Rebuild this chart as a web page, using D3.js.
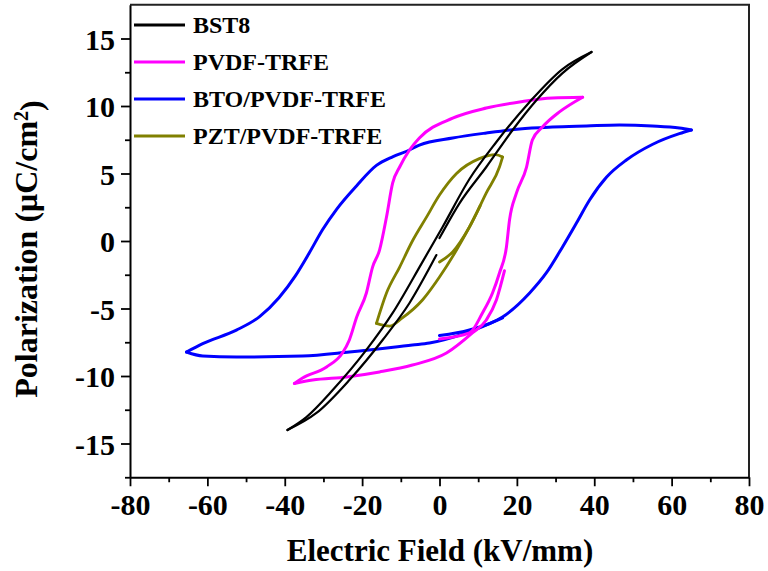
<!DOCTYPE html>
<html>
<head>
<meta charset="utf-8">
<script src="https://cdn.jsdelivr.net/npm/d3@7"></script>
<style>
  html, body { margin: 0; padding: 0; background: #fff; }
  svg { display: block; }
  text { font-family: "Liberation Serif", "Times New Roman", serif; font-weight: bold; fill: #000; }
</style>
</head>
<body>
<svg id="chart" width="768" height="571"></svg>
<script>
// ---- data (E in kV/mm, P in µC/cm²) ----
const seriesNames = ["BST8", "PVDF-TRFE", "BTO/PVDF-TRFE", "PZT/PVDF-TRFE"];
const seriesColors = ["#000000", "#ff00ff", "#0000ff", "#808000"];

const bst8 = [[0,0.22],[5.2,2.81],[12.1,5.48],[18.9,8.22],[25.1,10.44],[31.8,12.44],[39.3,14.0],
  [31.8,12.74],[23.3,10.3],[14.7,7.33],[7.75,4.59],[0.8,1.04],[-4.5,-1.6],[-12.1,-5.33],[-18.9,-8.07],
  [-27.6,-11.04],[-34.4,-13.04],[-39.3,-14.0],[-31.8,-12.74],[-23.3,-10.3],[-14.7,-7.33],[-7.75,-4.59],[-0.8,-1.04]];

const pvdf = [[0,-7.26],[7.75,-6.81],[11.1,-5.33],[13.7,-3.85],[15.5,-2.37],[17.3,-0.44],[18.1,1.56],[19.9,3.56],
  [22.5,5.48],[24.0,7.48],[26.6,8.44],[31.0,9.56],[37.0,10.65],[29.2,10.6],[20.7,10.3],[12.1,9.85],
  [3.4,9.1],[-5.2,7.63],[-7.75,6.74],[-10.3,5.48],[-12.1,4.30],[-13.7,1.78],[-15.5,-0.67],[-17.3,-1.93],
  [-18.9,-3.85],[-21.4,-5.63],[-23.3,-7.33],[-25.1,-8.30],[-29.2,-9.33],[-35.4,-10.15],[-37.5,-10.55],
  [-32.8,-10.3],[-24.0,-10.07],[-15.5,-9.7],[-7.0,-9.19],[1.8,-8.3],[8.5,-6.81],[12.1,-5.85],[14.7,-4.37],[16.8,-2.2]];

const bto = [[0,-7.0],[7.75,-6.59],[16.3,-5.63],[23.3,-3.85],[27.6,-2.37],[31.8,-0.44],[35.4,1.33],[38.8,3.04],
  [43.2,4.74],[48.3,6.0],[55.0,7.15],[62.0,7.95],[65.1,8.22],[62,8.37],[55,8.52],[46.5,8.59],[38,8.52],
  [29.2,8.44],[20.7,8.30],[12.1,8.0],[3.4,7.63],[-5.2,7.11],[-7.75,6.74],[-12,6.25],[-16.3,5.6],[-21.4,4.1],[-26.6,2.35],
  [-30.2,0.85],[-33.6,-0.85],[-37.3,-2.6],[-41.5,-4.2],[-46.5,-5.6],[-52.5,-6.6],[-61.2,-7.6],[-65.4,-8.22],
  [-61.2,-8.52],[-52.5,-8.59],[-35.4,-8.52],[-23.3,-8.22],[-7.0,-7.70],[-2.6,-7.56],[7.0,-6.81],[16.3,-5.7]];

const pzt = [[0,-1.56],[3.4,-0.81],[7.75,1.04],[12.1,3.56],[15.5,5.48],[16.3,6.22],[14.5,6.4],[10.3,6.1],
  [4.4,5.0],[0,3.4],[-3.4,1.75],[-7.0,0],[-10.3,-1.93],[-13.7,-3.85],[-16.3,-6.1],
  [-12.9,-6.3],[-9.6,-5.7],[-4.4,-4.37],[0,-2.67],[4.4,-0.67],[7.75,1.04],[10.5,2.6]];

const seriesData = [bst8, pvdf, bto, pzt];
const seriesWidths = [2.2, 3, 3, 2.8];

const xTicks = [-80, -60, -40, -20, 0, 20, 40, 60, 80];
const xMinor = [-70, -50, -30, -10, 10, 30, 50, 70];
const yTicks = [-15, -10, -5, 0, 5, 10, 15];
const yMinor = [-17.5, -12.5, -7.5, -2.5, 2.5, 7.5, 12.5];
const xTitle = "Electric Field (kV/mm)";

// ---- layout ----
const svg = d3.select("#chart");
const L = 130, R = 749, T = 4.75, B = 477.25;
const x = d3.scaleLinear().domain([-80, 80]).range([L, R]);
const y = d3.scaleLinear().domain([-17.5, 17.5]).range([B, T]);

// frame top/right
svg.append("path")
  .attr("d", `M${L},${T}H${R}V${B}`)
  .attr("fill", "none").attr("stroke", "#222").attr("stroke-width", 2);

// split a loop into branches that are monotone in E
function branches(pts) {
  const out = [];
  let cur = [pts[0]], dir = 0;
  for (let i = 1; i < pts.length; i++) {
    const d = Math.sign(pts[i][0] - pts[i - 1][0]);
    if (dir !== 0 && d !== dir) {
      out.push(cur);
      cur = [pts[i - 1]];
    }
    dir = d;
    cur.push(pts[i]);
  }
  out.push(cur);
  return out.map(b => b[0][0] > b[b.length - 1][0] ? b.slice().reverse() : b);
}

const line = d3.line().x(d => x(d[0])).y(d => y(d[1])).curve(d3.curveMonotoneX);
const order = [2, 1, 3, 0];
order.forEach(i => {
  const g = svg.append("g");
  branches(seriesData[i]).forEach(b => {
    g.append("path").datum(b)
      .attr("d", line)
      .attr("fill", "none")
      .attr("stroke", seriesColors[i])
      .attr("stroke-width", seriesWidths[i])
      .attr("stroke-linejoin", "round")
      .attr("stroke-linecap", "round");
  });
});

// x axis
const xAxis = svg.append("g").attr("transform", `translate(0,${B})`)
  .call(d3.axisBottom(x).tickValues(xTicks).tickSize(9).tickSizeOuter(0).tickFormat(d => String(d)));
svg.append("g").attr("transform", `translate(0,${B})`)
  .call(d3.axisBottom(x).tickValues(xMinor).tickSize(5).tickSizeOuter(0).tickFormat(""))
  .call(g => g.select(".domain").remove());
xAxis.selectAll("text").attr("y", 38).attr("dy", 0)
  .style("font-size", "30px").style("font-family", "'Liberation Serif', serif").style("font-weight", "bold");

// y axis
const yAxis = svg.append("g").attr("transform", `translate(${L},0)`)
  .call(d3.axisLeft(y).tickValues(yTicks).tickSize(9).tickSizeOuter(0).tickFormat(d => String(d)));
svg.append("g").attr("transform", `translate(${L},0)`)
  .call(d3.axisLeft(y).tickValues(yMinor).tickSize(5).tickSizeOuter(0).tickFormat(""))
  .call(g => g.select(".domain").remove());
yAxis.selectAll("text").attr("x", -15).attr("dy", "0.36em")
  .style("font-size", "30px").style("font-family", "'Liberation Serif', serif").style("font-weight", "bold");

svg.selectAll(".domain").attr("stroke", "#000").attr("stroke-width", 2);
svg.selectAll(".tick line").attr("stroke", "#000").attr("stroke-width", 1.8);
svg.selectAll(".tick text").attr("fill", "#000");

// axis titles
svg.append("text").attr("x", 440).attr("y", 561).attr("text-anchor", "middle")
  .style("font-size", "31px").text(xTitle);

const yt = svg.append("text").attr("transform", "translate(37,249) rotate(-90)")
  .attr("text-anchor", "middle").style("font-size", "32px");
yt.append("tspan").text("Polarization (μC/cm");
yt.append("tspan").attr("dy", "-0.45em").style("font-size", "20px").text("2");
yt.append("tspan").attr("dy", "0.45em").text(")");

// legend
const legY = [25, 62, 99, 136];
seriesNames.forEach((name, i) => {
  const g = svg.append("g");
  g.append("line").attr("x1", 134).attr("x2", 185).attr("y1", legY[i]).attr("y2", legY[i])
    .attr("stroke", seriesColors[i]).attr("stroke-width", 2.8);
  g.append("text").attr("x", 193).attr("y", legY[i] + 8).style("font-size", "24px").text(name);
});
</script>
</body>
</html>
